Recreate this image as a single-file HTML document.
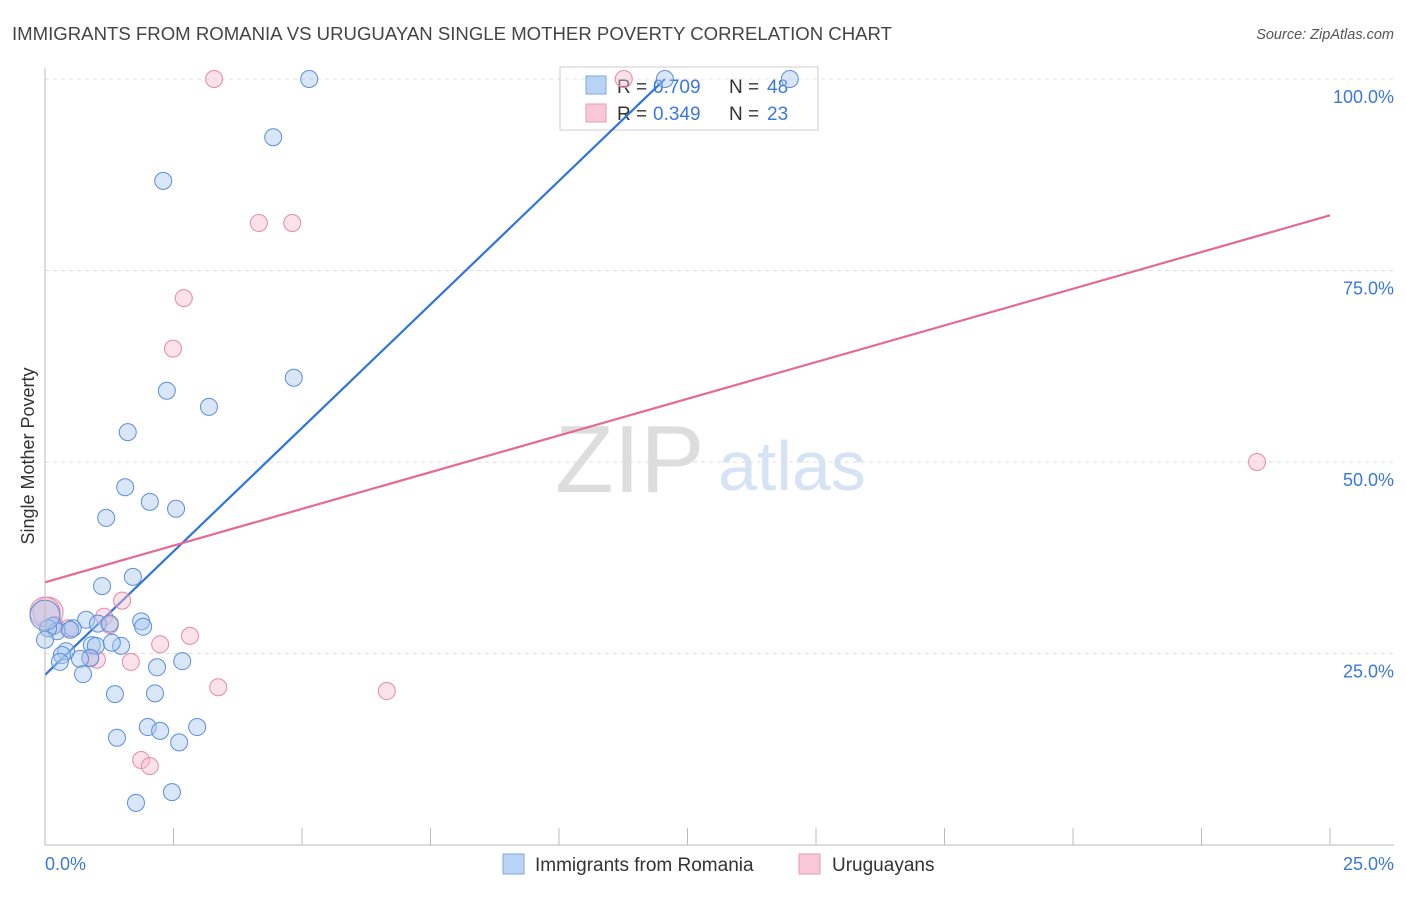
<!DOCTYPE html>
<html><head><meta charset="utf-8"><style>
body{margin:0;background:#fff;font-family:"Liberation Sans",sans-serif;}
svg text{font-family:"Liberation Sans",sans-serif;}
</style></head><body>
<svg id="chart" width="1406" height="892" xmlns="http://www.w3.org/2000/svg">
<text x="12" y="40" font-size="18" fill="#444" textLength="880" lengthAdjust="spacingAndGlyphs">IMMIGRANTS FROM ROMANIA VS URUGUAYAN SINGLE MOTHER POVERTY CORRELATION CHART</text>
<text x="1394" y="39" font-size="14.5" fill="#555" font-style="italic" text-anchor="end">Source: ZipAtlas.com</text>
<text x="555" y="492" font-size="96" fill="#ddd" font-family="Liberation Serif">ZIP</text>
<text x="718" y="490" font-size="70" fill="#d6e3f5">atlas</text>
<text transform="translate(34,456) rotate(-90)" font-size="18" fill="#333" text-anchor="middle">Single Mother Poverty</text>
<g id="grid"></g><g id="ticks"></g>
<g>
<rect x="560" y="67" width="258" height="63" fill="#fff" fill-opacity="0.3" stroke="#ccc"/>
<rect x="586" y="76" width="20" height="18" fill="#b8d3f5" stroke="#7fa8e0"/>
<rect x="586" y="104" width="20" height="18" fill="#f8c8d8" stroke="#e89ab4"/>
<text x="617" y="93" font-size="19" fill="#333">R =</text><text x="653" y="93" font-size="19" fill="#3b78d8">0.709</text>
<text x="729" y="93" font-size="19" fill="#333">N =</text><text x="767" y="93" font-size="19" fill="#3b78d8">48</text>
<text x="617" y="120" font-size="19" fill="#333">R =</text><text x="653" y="120" font-size="19" fill="#3b78d8">0.349</text>
<text x="729" y="120" font-size="19" fill="#333">N =</text><text x="767" y="120" font-size="19" fill="#3b78d8">23</text>
</g>
<g id="lines"></g><g id="pts"></g>
<line x1="45" y1="845" x2="1394" y2="845" stroke="#bbb"/>
<line x1="45" y1="68" x2="45" y2="845" stroke="#bbb"/>
<text x="45" y="870" font-size="18" fill="#3b78d8">0.0%</text>
<text x="1394" y="870" font-size="18" fill="#3b78d8" text-anchor="end">25.0%</text>
<g>
<rect x="503" y="854" width="21" height="20" fill="#b8d3f5" stroke="#7fa8e0"/>
<text x="535" y="871" font-size="19" fill="#333">Immigrants from Romania</text>
<rect x="799" y="854" width="21" height="20" fill="#f8c8d8" stroke="#e89ab4"/>
<text x="832" y="871" font-size="19" fill="#333">Uruguayans</text>
</g>
</svg>
<script>
const blueX=[5.14,4.44,2.30,4.84,2.37,3.19,1.61,1.56,2.04,2.55,1.19,1.71,1.11,1.87,1.91,0.80,0.54,1.03,0.16,0.23,1.26,0.06,0,0.91,0.99,1.48,1.30,0.41,0.33,0.88,0.68,0.29,2.18,2.67,0.74,1.36,2.14,2.00,2.24,2.96,1.40,2.61,1.77,2.47,0,14.49,12.06,0.49];
const blueY=[100,92.4,86.7,61.0,59.3,57.2,53.9,46.7,44.8,43.9,42.7,35.0,33.8,29.2,28.5,29.4,28.3,28.9,28.6,27.9,28.9,28.3,26.8,26.1,26.0,26.0,26.4,25.3,24.8,24.4,24.3,23.9,23.2,24.0,22.3,19.7,19.8,15.4,14.9,15.4,14.0,13.4,5.5,6.9,30.0,100,100,28.1];
const pinkX=[3.29,4.16,4.81,2.70,2.49,23.58,1.50,1.15,1.26,0.06,0.45,1.01,0.88,1.67,2.24,2.82,3.37,6.65,1.87,2.04,11.26,0,0.19];
const pinkY=[100,81.2,81.2,71.4,64.8,50.0,31.9,29.8,28.7,30.4,28.3,24.2,24.5,23.9,26.2,27.3,20.6,20.1,11.1,10.3,100,30.4,28.7];
const yTicks=[25,50,75,100];
const yTickLabels=["25.0%","50.0%","75.0%","100.0%"];
const xTicks=[0,2.5,5,7.5,10,12.5,15,17.5,20,22.5,25];
const blueTrend=[22.2,6.45];
const pinkTrend=[34.3,1.916];
const NS="http://www.w3.org/2000/svg";
const sx=v=>45+v*51.4, sy=v=>845-v*7.66;
function mk(tag,attrs,parent){const e=document.createElementNS(NS,tag);for(const k in attrs)e.setAttribute(k,attrs[k]);document.getElementById(parent).appendChild(e);return e;}
yTicks.forEach((t,i)=>{
 const g=mk('line',{x1:45,x2:1394,y1:sy(t),y2:sy(t),stroke:'#ddd','stroke-dasharray':'4,4'},'grid');
 
 
 const l=mk('text',{x:1394,y:sy(t)+24,'font-size':18,fill:'#3b78d8','text-anchor':'end'},'grid');
 l.textContent=yTickLabels[i];
 
 
});
xTicks.forEach(t=>{
 const k=mk('line',{x1:sx(t),x2:sx(t),y1:828,y2:845,stroke:'#bbb'},'ticks');
 
 
});
function pts(xs,ys,fill,stroke,name){
 xs.forEach((x,i)=>{
  const big=(x===0||x===0.06)&&ys[i]>=30;
  const c=mk('circle',{cx:sx(x),cy:sy(ys[i]),r:big?15:8.5,fill:fill,'fill-opacity':0.45,stroke:stroke,'stroke-width':1},'pts');
  
  
 });
}
pts(pinkX,pinkY,'#f6bcd0','#e48aa8','point-uruguayans');
pts(blueX,blueY,'#a8c8f0','#5b8fd8','point-romania');
const bxEnd=(100-blueTrend[0])/blueTrend[1];
const bl=mk('line',{x1:sx(0),y1:sy(blueTrend[0]),x2:sx(bxEnd),y2:sy(100),stroke:'#2f74d8','stroke-width':2.2},'lines');


const pl=mk('line',{x1:sx(0),y1:sy(pinkTrend[0]),x2:sx(25),y2:sy(pinkTrend[0]+25*pinkTrend[1]),stroke:'#e46a96','stroke-width':2.2},'lines');


</script>
</body></html>
